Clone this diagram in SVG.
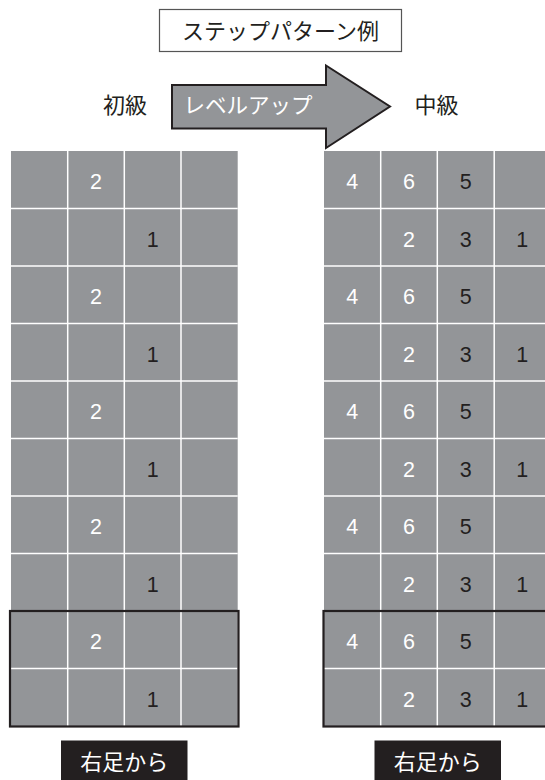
<svg xmlns="http://www.w3.org/2000/svg" width="545" height="780" viewBox="0 0 545 780">
<style>
.jp{font-family:"Noto Sans CJK JP","Noto Sans",sans-serif;}
.num{font-family:"Liberation Sans",Arial,sans-serif;font-size:21.5px;text-anchor:middle;}
.w{fill:#ffffff;}
.k{fill:#231f20;}
.cell{fill:#939598;}
.gl{stroke:#ffffff;stroke-width:1.5;}
.box{fill:none;stroke:#231f20;stroke-width:2.2;}
</style>
<rect width="545" height="780" fill="#ffffff"/>
<g id="title">
<rect x="159.5" y="9.5" width="242" height="42" fill="#ffffff" stroke="#555555" stroke-width="1.2"/>
<text class="jp" x="280.5" y="39" font-size="22" text-anchor="middle" fill="#231f20">ステップパターン例</text>
</g>
<g id="beginner"><text class="jp" x="125" y="113" font-size="22" text-anchor="middle" fill="#231f20">初級</text></g>
<g id="levelup">
<polygon points="172,85 326,85 326,65.5 390,106.5 326,148 326,128.5 172,128.5" fill="#939598" stroke="#231f20" stroke-width="2"/>
<text class="jp" x="248" y="113" font-size="21.5" text-anchor="middle" fill="#ffffff">レベルアップ</text>
</g>
<g id="intermediate"><text class="jp" x="436.5" y="113" font-size="22" text-anchor="middle" fill="#231f20">中級</text></g>

<g id="grid-left">
<rect class="cell" x="11" y="151" width="226.7" height="575"/>
<g class="gl">
<line x1="67.7" y1="151" x2="67.7" y2="726"/>
<line x1="124.3" y1="151" x2="124.3" y2="726"/>
<line x1="181" y1="151" x2="181" y2="726"/>
<line x1="11" y1="208.5" x2="237.7" y2="208.5"/>
<line x1="11" y1="266" x2="237.7" y2="266"/>
<line x1="11" y1="323.5" x2="237.7" y2="323.5"/>
<line x1="11" y1="381" x2="237.7" y2="381"/>
<line x1="11" y1="438.5" x2="237.7" y2="438.5"/>
<line x1="11" y1="496" x2="237.7" y2="496"/>
<line x1="11" y1="553.5" x2="237.7" y2="553.5"/>
<line x1="11" y1="611" x2="237.7" y2="611"/>
<line x1="11" y1="668.5" x2="237.7" y2="668.5"/>
</g>
<g class="num">
<text class="w" x="96" y="189">2</text>
<text class="k" x="152.7" y="246.5">1</text>
<text class="w" x="96" y="304">2</text>
<text class="k" x="152.7" y="361.5">1</text>
<text class="w" x="96" y="419">2</text>
<text class="k" x="152.7" y="476.5">1</text>
<text class="w" x="96" y="534">2</text>
<text class="k" x="152.7" y="591.5">1</text>
<text class="w" x="96" y="649">2</text>
<text class="k" x="152.7" y="706.5">1</text>
</g>
<rect class="box" x="10" y="611" width="228.5" height="115.5"/>
</g>

<g id="grid-right">
<rect class="cell" x="324" y="151" width="230" height="575"/>
<g class="gl">
<line x1="380.7" y1="151" x2="380.7" y2="726"/>
<line x1="437.3" y1="151" x2="437.3" y2="726"/>
<line x1="494.2" y1="151" x2="494.2" y2="726"/>
<line x1="324" y1="208.5" x2="545" y2="208.5"/>
<line x1="324" y1="266" x2="545" y2="266"/>
<line x1="324" y1="323.5" x2="545" y2="323.5"/>
<line x1="324" y1="381" x2="545" y2="381"/>
<line x1="324" y1="438.5" x2="545" y2="438.5"/>
<line x1="324" y1="496" x2="545" y2="496"/>
<line x1="324" y1="553.5" x2="545" y2="553.5"/>
<line x1="324" y1="611" x2="545" y2="611"/>
<line x1="324" y1="668.5" x2="545" y2="668.5"/>
</g>
<g class="num">
<text class="w" x="352.3" y="189">4</text><text class="w" x="409" y="189">6</text><text class="k" x="465.7" y="189">5</text>
<text class="w" x="409" y="246.5">2</text><text class="k" x="465.7" y="246.5">3</text><text class="k" x="522.3" y="246.5">1</text>
<text class="w" x="352.3" y="304">4</text><text class="w" x="409" y="304">6</text><text class="k" x="465.7" y="304">5</text>
<text class="w" x="409" y="361.5">2</text><text class="k" x="465.7" y="361.5">3</text><text class="k" x="522.3" y="361.5">1</text>
<text class="w" x="352.3" y="419">4</text><text class="w" x="409" y="419">6</text><text class="k" x="465.7" y="419">5</text>
<text class="w" x="409" y="476.5">2</text><text class="k" x="465.7" y="476.5">3</text><text class="k" x="522.3" y="476.5">1</text>
<text class="w" x="352.3" y="534">4</text><text class="w" x="409" y="534">6</text><text class="k" x="465.7" y="534">5</text>
<text class="w" x="409" y="591.5">2</text><text class="k" x="465.7" y="591.5">3</text><text class="k" x="522.3" y="591.5">1</text>
<text class="w" x="352.3" y="649">4</text><text class="w" x="409" y="649">6</text><text class="k" x="465.7" y="649">5</text>
<text class="w" x="409" y="706.5">2</text><text class="k" x="465.7" y="706.5">3</text><text class="k" x="522.3" y="706.5">1</text>
</g>
<rect class="box" x="323.5" y="611" width="230" height="115.5"/>
</g>

<g id="label-left">
<rect x="61" y="740.5" width="126.5" height="40" fill="#231f20"/>
<text class="jp" x="124.2" y="770" font-size="22" text-anchor="middle" fill="#ffffff">右足から</text>
</g>
<g id="label-right">
<rect x="374.5" y="740.5" width="126.5" height="40" fill="#231f20"/>
<text class="jp" x="437.7" y="770" font-size="22" text-anchor="middle" fill="#ffffff">右足から</text>
</g>
</svg>
